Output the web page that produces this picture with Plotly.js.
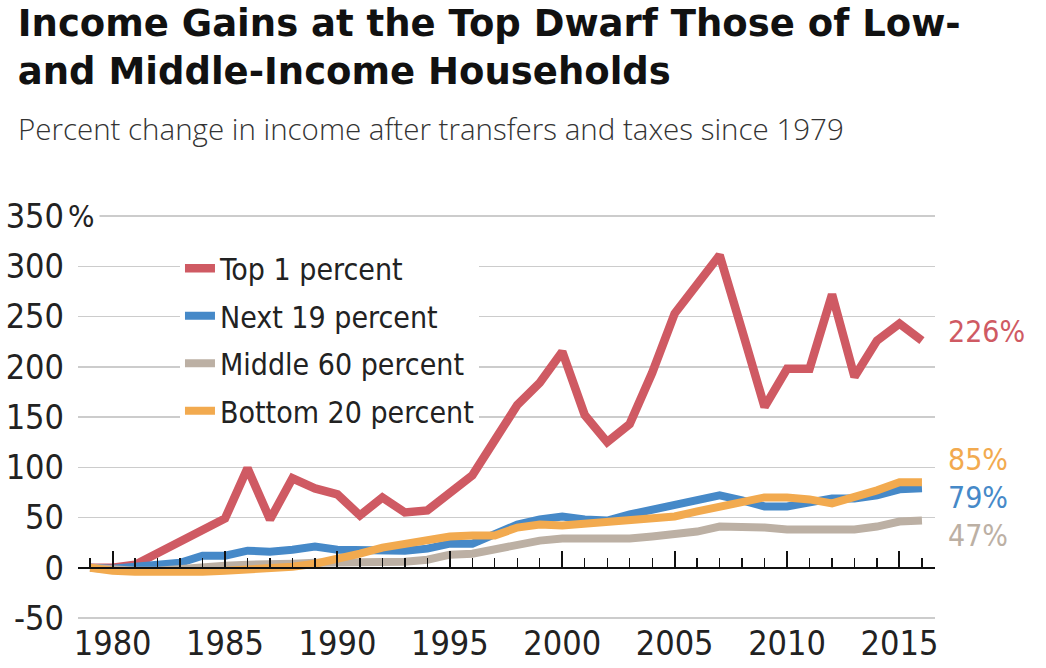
<!DOCTYPE html>
<html>
<head>
<meta charset="utf-8">
<script src="https://cdn.plot.ly/plotly-3.0.1.min.js"></script>
<style>html,body{margin:0;padding:0;background:#fff;}#chart{width:1046px;height:668px;}</style>
</head>
<body>
<div id="chart"></div>
<script>
const years = [1979,1980,1981,1982,1983,1984,1985,1986,1987,1988,1989,1990,1991,1992,1993,1994,1995,1996,1997,1998,1999,2000,2001,2002,2003,2004,2005,2006,2007,2008,2009,2010,2011,2012,2013,2014,2015,2016];
const top1 = [0,0,3,14,26,38,49,99,48,89,79,73,52,70,55,57,74,92,127,162,184,215,152,125,143,194,253,283,311,236,160,198,198,272,190,226,243,226];
const next19 = [0,-1,1,3,5,12,12,17,16,18,21,18,17,17,17,19,24,24,33,43,48,51,48,47,53,58,63,67,72,67,61,61,66,69,69,72,78,79];
const middle60 = [0,-2,-3,-3,-1,1,2,3,3,4,5,5,5,6,6,8,13,14,19,24,27,29,29,28,29,31,34,36,41,41,40,38,38,38,38,41,46,47];
const bottom20 = [0,-3,-4,-4,-5,-4,-3,-2,-2,1,4,8,14,20,23,26,31,32,32,40,43,42,44,46,48,50,51,56,61,66,70,70,68,64,70,77,85,85];
const seriesNames = ["Top 1 percent","Next 19 percent","Middle 60 percent","Bottom 20 percent"];
const yTickVals = [-50,0,50,100,150,200,250,300,350];
const yTickText = ["-50","0","50","100","150","200","250","300","350"];
const xTickVals = [1980,1985,1990,1995,2000,2005,2010,2015];
const xTickText = ["1980","1985","1990","1995","2000","2005","2010","2015"];

const colors = ["#cf5a63","#4689c8","#bcb0a4","#f2aa4f"];
const widths = [8.5,8,8,8];
const narrow = "'DejaVu Sans Condensed','Liberation Sans Narrow',sans-serif";
const allSeries = [top1,next19,middle60,bottom20];

const traces = allSeries.map((s,i)=>({
  x: years, y: s, type:'scatter', mode:'lines', name: seriesNames[i],
  line:{color:colors[i], width:widths[i]}, legendgroup:'g'+i
}));
// invisible helper trace for the labelled bottom axis
traces.push({x:[years[0]], y:[null], xaxis:'x2', type:'scatter', mode:'lines', showlegend:false, hoverinfo:'skip'});

const xr = [1978.46, 2016.58];
const endShift = [9, -9, -15, 23];
const annotations = allSeries.map((s,i)=>({
  x: years[years.length-1], y: s[s.length-1], xref:'x', yref:'y',
  text: s[s.length-1] + '%', showarrow:false, xanchor:'left', yanchor:'middle',
  xshift: 24, yshift: endShift[i], font:{family:narrow, size:30, color:colors[i]}
}));
annotations.push({x:-0.0142, y:350, xref:'paper', yref:'y', text:'%', showarrow:false,
  xanchor:'left', yanchor:'middle', align:'left', width:30, bgcolor:'#ffffff',
  font:{family:narrow, size:31, color:'#222'}});
annotations.push({x:-0.0723, y:1.202, xref:'paper', yref:'paper', text:'Percent change in income after transfers and taxes since 1979',
  showarrow:false, xanchor:'left', yanchor:'middle',
  font:{family:"'Open Sans',sans-serif", size:29.5, weight:300, color:'#333'}});

const layout = {
  width:1046, height:668,
  margin:{l:78, r:111, t:210.5, b:47.97},
  paper_bgcolor:'#fff', plot_bgcolor:'#fff',
  title:{text:'Income Gains at the Top Dwarf Those of Low-<br>and Middle-Income Households',
    x:0.017, xref:'container', xanchor:'left', y:0.946, yref:'container', yanchor:'top',
    font:{family:"'DejaVu Sans',sans-serif", size:37, weight:700, color:'#111'}},
  showlegend:true,
  legend:{x:0.119, xanchor:'left', y:0.685, yanchor:'middle', bgcolor:'#ffffff', borderwidth:0,
    font:{family:narrow, size:30, color:'#222'}, itemwidth:30, traceorder:'grouped', tracegroupgap:5.5},
  xaxis:{range:xr, anchor:'free', position:0.1278, showgrid:false, zeroline:false,
    showline:true, linecolor:'#111', linewidth:2.5, ticks:'inside', ticklen:16, tickwidth:2, tickcolor:'#111',
    tick0:1980, dtick:5, showticklabels:false,
    minor:{dtick:1, tick0:1979, ticks:'inside', ticklen:9, tickwidth:1.3, tickcolor:'#111', showgrid:false}},
  xaxis2:{range:xr, overlaying:'x', anchor:'y', side:'bottom', showgrid:false, zeroline:false, showline:false,
    ticks:'', tickvals:xTickVals, ticktext:xTickText, ticklabelstandoff:0,
    tickfont:{family:narrow, size:34, color:'#222'}},
  yaxis:{range:[-52,355], tickvals:yTickVals, ticktext:yTickText, showgrid:true, gridcolor:'#cccccc', gridwidth:1.5,
    zeroline:false, showline:false, ticks:'', ticklabelstandoff:13,
    tickfont:{family:narrow, size:34, color:'#222'}},
  annotations: annotations
};
Plotly.newPlot('chart', traces, layout, {displayModeBar:false, staticPlot:true});
</script>
</body>
</html>
